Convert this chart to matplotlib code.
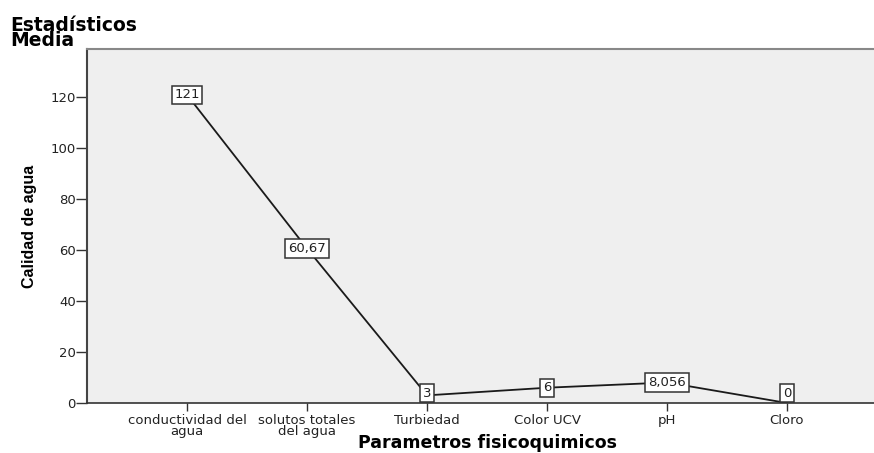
import matplotlib.pyplot as plt

plt.rcParams['font.family'] = ['DejaVu Sans']

parametros = ['conductividad del\nagua', 'solutos totales\ndel agua', 'Turbiedad',
              'Color UCV', 'pH', 'Cloro']
medias = [121, 60.67, 3, 6, 8.056, 0]
etiquetas = ['121', '60,67', '3', '6', '8,056', '0']

fig = plt.figure(figsize=(8.74, 4.53), dpi=100)
ax = fig.add_axes([87 / 874, 50 / 453, (888 - 87) / 874, (403 - 49) / 453])
ax.set_facecolor('#efefef')

x = list(range(len(parametros)))
ax.plot(x, medias, color='#1a1a1a', lw=1.3, zorder=2)

# value boxes on each point (kept above the x axis for the zero)
for xi, yi, t in zip(x, medias, etiquetas):
    yy = max(yi, 3.8)
    ax.text(xi, yy, t, ha='center', va='center', fontsize=9.5, color='#222222', zorder=3,
            bbox=dict(boxstyle='square,pad=0.2', fc='white', ec='#333333', lw=1.1))

ax.set_xlim(-100 / 120, (888 - 187) / 120)
ax.set_ylim(0, 139)
ax.set_yticks(range(0, 121, 20))
ax.set_xticks(x)
ax.set_xticklabels(parametros, fontsize=9.5, linespacing=0.78, color='#222222')
ax.tick_params(axis='y', labelsize=9.5, labelcolor='#222222', length=8, width=1,
               color='#333333', pad=0)
ax.tick_params(axis='x', length=6, width=1, color='#333333', pad=2)

ax.spines['right'].set_visible(False)
ax.spines['top'].set_color('#888888')
ax.spines['top'].set_linewidth(1.5)
ax.spines['left'].set_color('#444444')
ax.spines['left'].set_linewidth(1.5)
ax.spines['bottom'].set_color('#333333')
ax.spines['bottom'].set_linewidth(1.2)

ax.set_ylabel('Calidad de agua', fontsize=11.5, fontweight='bold', labelpad=10,
              family='Liberation Sans')

# axis title sits right at the bottom edge
fig.text(487 / 874, 5 / 453, 'Parametros fisicoquimicos', fontsize=12.5, fontweight='bold',
         ha='center', va='baseline')

fig.text(10 / 874, 1 - 16 / 453, 'Estadísticos\nMedia', fontsize=13.5, fontweight='bold',
         va='top', ha='left', linespacing=0.74)

fig.savefig('out.png', dpi=100)
